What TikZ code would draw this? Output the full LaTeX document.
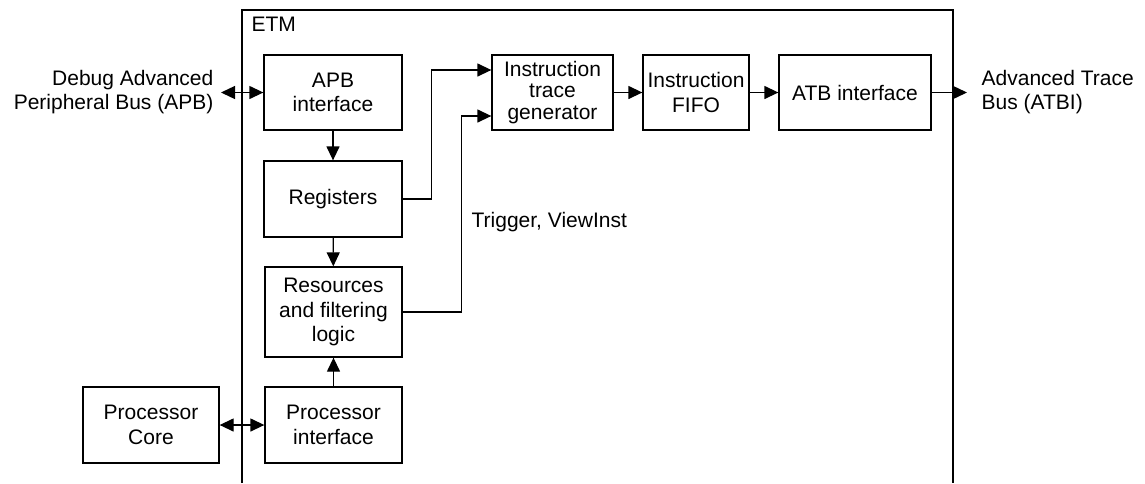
\documentclass[tikz,border=0pt]{standalone}
\usepackage{fontspec}
\setmainfont{Liberation Sans}
\usetikzlibrary{arrows.meta,calc}
\begin{document}
\begin{tikzpicture}
[x=1pt,y=-1pt,line width=1.3pt,
  >={Triangle[length=14pt,width=13pt]},
  lineDecorate/.style={->},%
  nodeDecorate/.style={shape=rectangle,draw,align=center,inner sep=0pt,
    font=\fontsize{21}{24.5}\selectfont},
  textDecorate/.style={font=\fontsize{21}{24.5}\selectfont,inner sep=0pt}]
\useasboundingbox (0,0) rectangle (1145,483);
%% ETM outline
\draw (242,483) -- (242,10) -- (953,10) -- (953,483);
\node[textDecorate,anchor=base west] (etm) at (251,31) {ETM};
%% blocks
\foreach \nodename/\x/\y/\w/\h/\txt in {
  apb/333/92.5/138/75/{APB\\interface},
  reg/333/199/138/76/{Registers},
  res/333.5/312/137/90/{Resources\\and filtering\\logic},
  pif/333.5/425/137/76/{Processor\\interface},
  core/151/425/136/76/{Processor\\Core},
  fifo/696/92.5/106/75/{Instruction\\FIFO},
  atb/855/92.5/152/75/{ATB interface}}
{
  \node (\nodename) at (\x,\y) [nodeDecorate,minimum width=\w pt,minimum height=\h pt] {\txt};
}
\node (itg) at (552.5,92.5) [nodeDecorate,minimum width=121pt,minimum height=75pt,
  font=\fontsize{21}{21.5}\selectfont] {Instruction\\trace\\generator};
%% outside labels
\node[textDecorate,align=right,anchor=east] (dapb) at (214,92) {Debug Advanced\\Peripheral Bus (APB)};
\node[textDecorate,align=left,anchor=west] (atbi) at (981,92) {Advanced Trace\\Bus (ATBI)};
\node[textDecorate,anchor=west] (trig) at (471,222) {Trigger, ViewInst};
\coordinate (apbin) at (221,92.5);
\coordinate (atbout) at (967,92.5);
%% connectors
\draw[<->] (apbin) -- (apb);
\draw[<->] (core) -- (pif);
\path
\foreach \startnode/\endnode in {apb/reg, reg/res, pif/res, itg/fifo, fifo/atb}
{
  (\startnode) edge[lineDecorate] (\endnode)
};
\draw[lineDecorate] (atb) -- (atbout);
\draw[lineDecorate] (reg.east) -- ++(29,0) |- ($(itg.west)+(0,-22.5)$);
\draw[lineDecorate] (res.east) -- ++(59,0) |- ($(itg.west)+(0,23.5)$);
\end{tikzpicture}
\end{document}
